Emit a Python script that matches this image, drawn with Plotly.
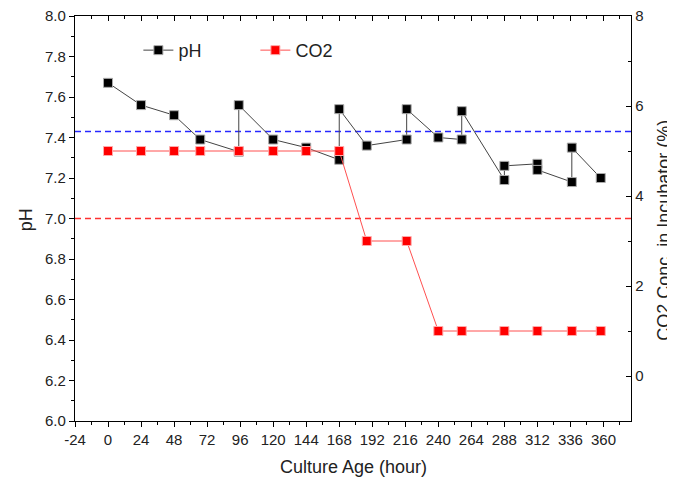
import plotly.graph_objects as go

# Culture age (hour) and pH readings (duplicate times = before/after medium change)
ph_hours = [0, 24, 48, 67, 95, 95, 120, 144, 168, 168, 188, 217, 217, 240, 257, 257,
            288, 288, 312, 312, 337, 337, 358]
ph_values = [7.67, 7.56, 7.51, 7.39, 7.33, 7.56, 7.39, 7.35, 7.29, 7.54, 7.36, 7.39, 7.54,
             7.40, 7.39, 7.53, 7.19, 7.26, 7.27, 7.24, 7.18, 7.35, 7.20]

# CO2 concentration in incubator (%)
co2_hours = [0, 24, 48, 67, 95, 120, 144, 168, 188, 217, 240, 257, 288, 312, 337, 358]
co2_values = [5, 5, 5, 5, 5, 5, 5, 5, 3, 3, 1, 1, 1, 1, 1, 1]

# reference levels (pH)
blue_ref = 7.43
red_ref = 7.0

x_ticks = [-24, 0, 24, 48, 72, 96, 120, 144, 168, 192, 216, 240, 264, 288, 312, 336, 360]
x_labels = [str(v) for v in x_ticks]
y_ticks = [6.0, 6.2, 6.4, 6.6, 6.8, 7.0, 7.2, 7.4, 7.6, 7.8, 8.0]
y_labels = [f"{v:.1f}" for v in y_ticks]
y2_ticks = [0, 2, 4, 6, 8]

font_family = "Liberation Sans, Arial, sans-serif"

fig = go.Figure()

fig.add_trace(go.Scatter(
    x=ph_hours, y=ph_values, name="pH", mode="lines+markers",
    line=dict(color="#444444", width=1),
    marker=dict(symbol="square", size=9, color="black", line=dict(color="#aaaaaa", width=1)),
    xaxis="x", yaxis="y",
))
fig.add_trace(go.Scatter(
    x=co2_hours, y=co2_values, name="CO2", mode="lines+markers",
    line=dict(color="#ff5050", width=1),
    marker=dict(symbol="square", size=9, color="#ff0000", line=dict(color="#ffaaaa", width=1)),
    xaxis="x", yaxis="y2",
))
fig.add_trace(go.Scatter(x=[None], y=[None], xaxis="x2", yaxis="y", showlegend=False,
                         hoverinfo="skip"))

fig.add_shape(type="line", xref="paper", yref="y", x0=0, x1=1, y0=blue_ref, y1=blue_ref,
              line=dict(color="#2828ff", width=1.5, dash="6px,4px"), layer="below")
fig.add_shape(type="line", xref="paper", yref="y", x0=0, x1=1, y0=red_ref, y1=red_ref,
              line=dict(color="#ff3030", width=1.3, dash="6px,4px"), layer="below")

axis_common = dict(showgrid=False, zeroline=False, showline=True, linecolor="black",
                   linewidth=1.3, tickcolor="black", automargin=False,
                   ticklabeloverflow="allow",
                   tickfont=dict(family=font_family, size=15, color="#222"))

fig.update_layout(
    width=675, height=483,
    margin=dict(l=67, r=52, t=8, b=70, autoexpand=False),
    paper_bgcolor="white", plot_bgcolor="white",
    font=dict(family=font_family, color="#222"),
    showlegend=True,
    legend=dict(orientation="h", x=0.114, y=0.915, xanchor="left", yanchor="middle",
                bgcolor="rgba(0,0,0,0)", font=dict(size=18, family=font_family),
                entrywidth=72, entrywidthmode="pixels"),
    xaxis=dict(range=[-24, 380], tickvals=x_ticks, ticktext=x_labels, ticks="outside",
               ticklen=5, minor=dict(dtick=12, ticks="outside", ticklen=3, tickcolor="black"),
               anchor="y", mirror=True, **axis_common),
    xaxis2=dict(range=[-24, 380], overlaying="x", side="top", anchor="y",
                tickvals=x_ticks, ticks="inside", ticklen=5, showticklabels=False,
                minor=dict(dtick=12, ticks="inside", ticklen=3, tickcolor="black"),
                **axis_common),
    yaxis=dict(range=[6.0, 8.0], tickvals=y_ticks, ticktext=y_labels, ticks="outside",
               ticklen=5, minor=dict(dtick=0.1, ticks="outside", ticklen=3, tickcolor="black"),
               anchor="x", **axis_common),
    yaxis2=dict(range=[-1, 8], tickvals=y2_ticks, ticks="inside", ticklen=5,
                minor=dict(dtick=1, ticks="inside", ticklen=3, tickcolor="black"),
                overlaying="y", side="right", anchor="x", **axis_common),
    annotations=[
        dict(text="Culture Age (hour)", xref="paper", yref="paper", x=0.5, y=-0.1136,
             xanchor="center", yanchor="middle", showarrow=False,
             font=dict(size=18, family=font_family, color="#222")),
        dict(text="pH", xref="paper", yref="paper", x=-0.088, y=0.496, textangle=-90,
             xanchor="center", yanchor="middle", showarrow=False,
             font=dict(size=18, family=font_family, color="#222")),
        dict(text="CO2 Conc. in Incubator (%)", xref="paper", yref="paper", x=1.059,
             y=0.4716, textangle=-90, xanchor="center", yanchor="middle", showarrow=False,
             font=dict(size=18, family=font_family, color="#222")),
    ],
)

fig.write_html("out.html")
